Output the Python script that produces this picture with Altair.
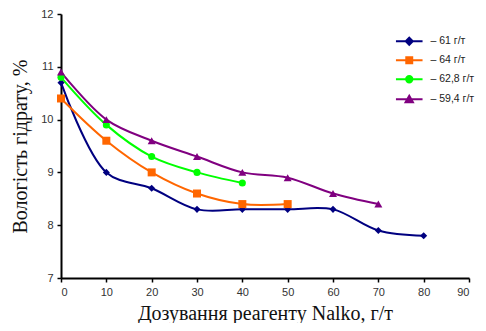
import altair as alt
import pandas as pd

doses = [0, 10, 20, 30, 40, 50, 60, 70, 80]
series_names = ["61 г/т", "64 г/т", "62,8 г/т", "59,4 г/т"]
s61 = [10.7, 9.0, 8.7, 8.3, 8.3, 8.3, 8.3, 7.9, 7.8]
s64 = [10.4, 9.6, 9.0, 8.6, 8.4, 8.4]
s628 = [10.8, 9.9, 9.3, 9.0, 8.8]
s594 = [10.9, 10.0, 9.6, 9.3, 9.0, 8.9, 8.6, 8.4]
colors = ["#000080", "#FF6600", "#00FF00", "#800080"]
shapes = ["diamond", "square", "circle", "triangle-up"]
marker_sizes = [50, 64, 50, 64]

x_ticks = [0, 10, 20, 30, 40, 50, 60, 70, 80, 90]
y_ticks = [7, 8, 9, 10, 11, 12]

rows = []
for name, vals in zip(series_names, [s61, s64, s628, s594]):
    for d, v in zip(doses, vals):
        rows.append({"series": name, "dose": d, "value": v})
df = pd.DataFrame(rows)

line_seg = "M-3.8,0H3.8"
legend_paths = [
    line_seg + "M0,-1L1,0L0,1L-1,0Z",
    line_seg + "M-0.85,-0.85H0.85V0.85H-0.85Z",
    line_seg + "M0.9,0A0.9,0.9 0 1,1 -0.9,0A0.9,0.9 0 1,1 0.9,0Z",
    line_seg + "M0,-1L1.05,0.85L-1.05,0.85Z",
]

x_enc = alt.X("dose:Q", scale=alt.Scale(domain=[0, 90], nice=False),
              axis=alt.Axis(values=x_ticks, title="Дозування реагенту Nalko, г/т"))
y_enc = alt.Y("value:Q", scale=alt.Scale(domain=[7, 12], nice=False, zero=False),
              axis=alt.Axis(values=y_ticks, title="Вологість гідрату, %"))

color_scale = alt.Scale(domain=series_names, range=colors)

leg = dict(title=None, orient="none", legendX=341, legendY=20,
           symbolSize=49, symbolStrokeWidth=2, symbolOpacity=1,
           labelExpr="'– ' + datum.label", labelFont="Liberation Sans",
           labelFontSize=10.5, labelColor="#222222", rowPadding=4,
           labelOffset=16, padding=2)

legend_layer = alt.Chart(df).mark_point(filled=True, opacity=0).encode(
    x=x_enc, y=y_enc,
    shape=alt.Shape("series:N", sort=series_names,
                    scale=alt.Scale(domain=series_names, range=legend_paths),
                    legend=alt.Legend(**leg)),
    fill=alt.Fill("series:N", sort=series_names, scale=color_scale,
                  legend=alt.Legend(**leg)),
    stroke=alt.Stroke("series:N", sort=series_names, scale=color_scale,
                      legend=alt.Legend(**leg)),
)

lines = alt.Chart(df).mark_line(interpolate="catmull-rom", strokeWidth=2).encode(
    x=x_enc, y=y_enc,
    color=alt.Color("series:N", sort=series_names, scale=color_scale, legend=None),
)

point_layers = []
for name, shp, sz in zip(series_names, shapes, marker_sizes):
    point_layers.append(
        alt.Chart(df).transform_filter(alt.datum.series == name)
        .mark_point(filled=True, shape=shp, size=sz, opacity=1)
        .encode(x=x_enc, y=y_enc,
                color=alt.Color("series:N", sort=series_names, scale=color_scale, legend=None))
    )

chart = alt.layer(legend_layer, lines, *point_layers).properties(
    width=408, height=264,
    autosize=alt.AutoSizeParams(type="none"),
    padding={"left": 53, "top": 6, "right": 9, "bottom": 45},
).configure_view(stroke=None).configure_axis(
    grid=False, domainColor="black", domainWidth=2, tickColor="black",
    tickWidth=1.5, tickSize=4, labelFont="Liberation Sans", labelFontSize=11,
    labelColor="#333333", titleFont="Liberation Serif", titleFontSize=20,
    titleFontWeight="normal", titleColor="#111111",
).configure_axisY(titlePadding=10, labelPadding=4).configure_axisX(titlePadding=6, labelPadding=4)

chart.save("out.html", embed_options={"renderer": "svg", "actions": False})
